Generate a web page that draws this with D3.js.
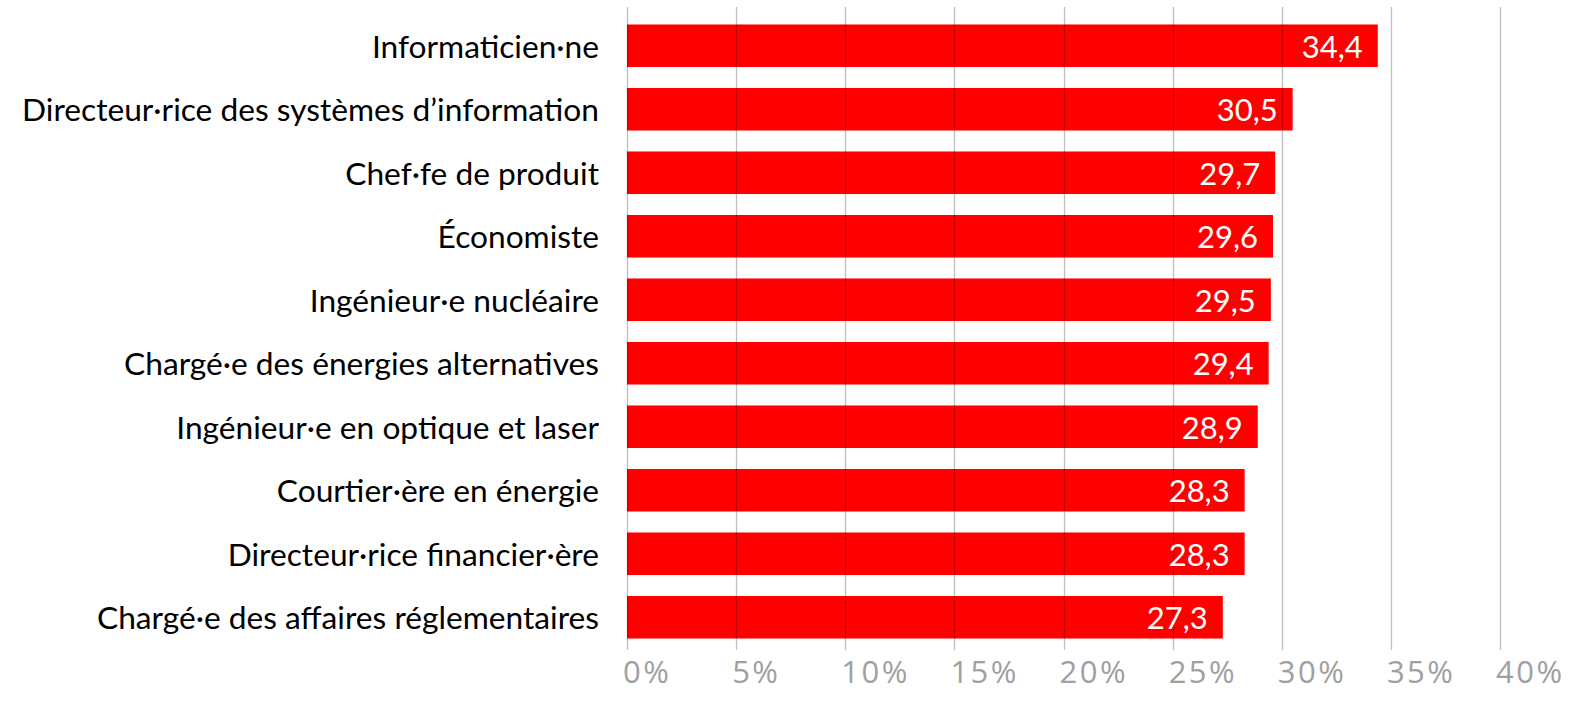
<!DOCTYPE html>
<html><head><meta charset="utf-8">
<script src="https://cdn.jsdelivr.net/npm/d3@7"></script>
<style>body{margin:0;background:#fff}svg{display:block}</style>
</head><body>
<svg id="c" width="1583" height="711"></svg>
<script>
const categories = ["Informaticien·ne","Directeur·rice des systèmes d’information","Chef·fe de produit","Économiste","Ingénieur·e nucléaire","Chargé·e des énergies alternatives","Ingénieur·e en optique et laser","Courtier·ère en énergie","Directeur·rice financier·ère","Chargé·e des affaires réglementaires"];
const values = [34.4,30.5,29.7,29.6,29.5,29.4,28.9,28.3,28.3,27.3];
const ticks = [0,5,10,15,20,25,30,35,40];

const svg = d3.select("#c");
const x = d3.scaleLinear().domain([0,40]).range([627,1500]);
const y = d3.scaleBand().domain(categories).range([14,649]).paddingInner(0.33).paddingOuter(0.165);
const font = "Lato, 'Open Sans', sans-serif";

svg.selectAll("rect.bar").data(categories).join("rect").attr("class","bar")
  .attr("x",x(0)).attr("y",d=>y(d)).attr("height",y.bandwidth())
  .attr("width",(d,i)=>x(values[i])-x(0)).attr("fill","#ff0000");

svg.selectAll("line.grid").data(ticks).join("line").attr("class","grid")
  .attr("x1",d=>Math.round(x(d))+0.5).attr("x2",d=>Math.round(x(d))+0.5)
  .attr("y1",7).attr("y2",650).attr("stroke","#000").attr("stroke-opacity",0.25).attr("stroke-width",1.3);

svg.selectAll("text.tick").data(ticks).join("text").attr("class","tick")
  .attr("x",d=>x(d)-4).attr("y",671).attr("dominant-baseline","central")
  .attr("font-family","'Open Sans', sans-serif").attr("font-size",31).attr("letter-spacing",2.5).attr("fill","#a0a0a0")
  .text(d=>d+"%");

svg.selectAll("text.cat").data(categories).join("text").attr("class","cat")
  .attr("x",599).attr("y",d=>y(d)+y.bandwidth()/2).attr("text-anchor","end")
  .attr("dominant-baseline","central").attr("font-family",font).attr("font-size",31.7).attr("fill","#000")
  .text(d=>d);

svg.selectAll("text.val").data(categories).join("text").attr("class","val")
  .attr("x",(d,i)=>x(values[i])-15).attr("y",d=>y(d)+y.bandwidth()/2).attr("text-anchor","end")
  .attr("dominant-baseline","central").attr("font-family",font).attr("font-size",31).attr("fill","#fff")
  .text((d,i)=>String(values[i]).replace(".",","));
</script>
</body></html>
